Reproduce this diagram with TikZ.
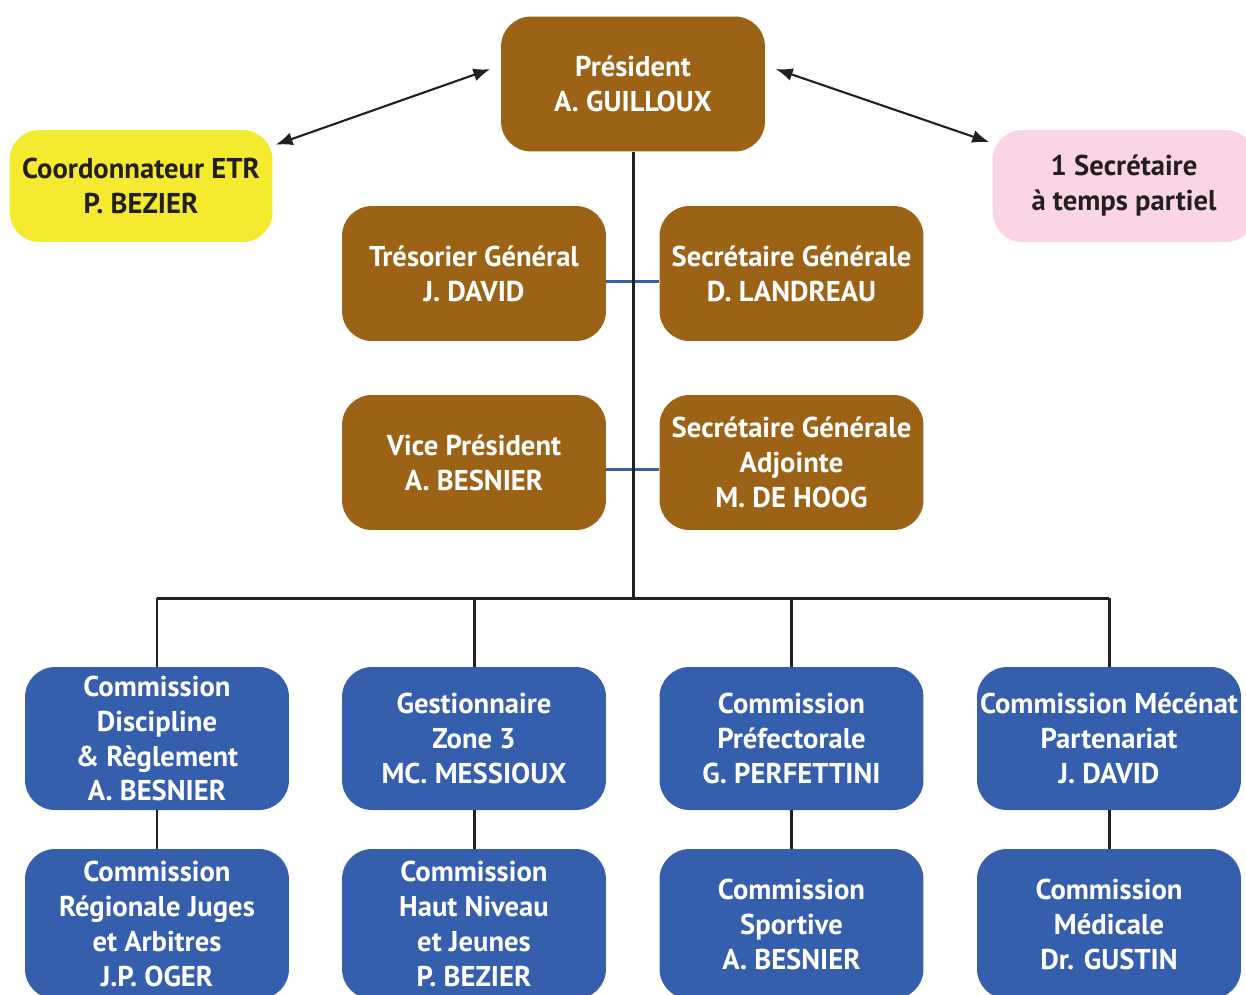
\documentclass[tikz,border=0pt]{standalone}
\usepackage{fontspec}
\setmainfont{PT Sans}
\usetikzlibrary{positioning,arrows.meta}

\definecolor{brun}{HTML}{9C6317}
\definecolor{bleu}{HTML}{355FAD}
\definecolor{jaune}{HTML}{F4EA30}
\definecolor{rose}{HTML}{F9D5E5}
\definecolor{texte}{HTML}{231F20}

\tikzset{
  poste/.style={rounded corners=0.6cm, minimum width=5.28cm, minimum height=2.7cm,
    align=center, inner sep=0pt, font=\bfseries\fontsize{16.3}{19.9}\selectfont},
  bureau/.style={poste, fill=brun, text=white},
  commission/.style={poste, fill=bleu, text=white, minimum height=2.86cm},
  annexe/.style={poste, minimum height=2.24cm, minimum width=5.26cm, text=texte},
  trait/.style={line width=1.7pt, draw=texte},
  lien/.style={line width=1.3pt, draw=bleu},
  fleche/.style={line width=1.2pt, draw=texte, {Latex[length=0.34cm,width=0.26cm]}-{Latex[length=0.34cm,width=0.26cm]}}
}

\begin{document}
\begin{tikzpicture}[x=0.02cm, y=-0.02cm]
  \useasboundingbox (0,0) rectangle (1246,994);
  \clip (0,0) rectangle (1246,994);

  % bureau
  \node[bureau] (pres) at (633,84) {Président\\A. GUILLOUX};
  \node[annexe, fill=jaune] (etr) at (141,186) {Coordonnateur ETR\\P. BEZIER};
  \node[annexe, fill=rose] (secr) at (1124,186) {1 Secrétaire\\à temps partiel};
  \node[bureau] (treso) at (474,273.5) {Trésorier Général\\J. DAVID};
  \node[bureau] (secgen) at (791.5,273.5) {Secrétaire Générale\\D. LANDREAU};
  \node[bureau] (vice) at (474,462.5) {Vice Président\\A. BESNIER};
  \node[bureau] (secadj) at (791.5,462.5) {Secrétaire Générale\\Adjointe\\M. DE HOOG};

  % commissions
  \node[commission] (c1) at (157,738.5) {Commission\\Discipline\\\& Règlement\\A. BESNIER};
  \node[commission] (c2) at (474,738.5) {Gestionnaire\\Zone 3\\MC. MESSIOUX};
  \node[commission] (c3) at (791.5,738.5) {Commission\\Préfectorale\\G. PERFETTINI};
  \node[commission] (c4) at (1109,738.5) {Commission Mécénat\\Partenariat\\J. DAVID};
  \node[commission, minimum height=3cm] (d1) at (157,924) {Commission\\Régionale Juges\\et Arbitres\\J.P. OGER};
  \node[commission, minimum height=3cm] (d2) at (474,924) {Commission\\Haut Niveau\\et Jeunes\\P. BEZIER};
  \node[commission, minimum height=3cm] (d3) at (791.5,924) {Commission\\Sportive\\A. BESNIER};
  \node[commission, minimum height=3cm] (d4) at (1109,924) {Commission\\Médicale\\Dr. GUSTIN};

  % liaisons
  \draw[lien] ([yshift=-0.16cm]treso.east) -- ([yshift=-0.16cm]secgen.west);
  \draw[lien] ([yshift=-0.14cm]vice.east) -- ([yshift=-0.14cm]secadj.west);
  \coordinate (barre) at (633,598);
  \draw[trait] (pres.south) -- (barre);
  \draw[trait] (c1.north |- barre) -- (c4.north |- barre);
  \foreach \n in {1,...,4}{
    \draw[trait] (c\n.north) -- (c\n.north |- barre);
    \draw[trait] (c\n.south) -- (d\n.north);
  }
  \draw[fleche, shorten <=0.22cm, shorten >=0.06cm] (pres.172) -- (etr.17);
  \draw[fleche, shorten <=0.22cm, shorten >=0.06cm] (pres.8) -- (secr.162);
\end{tikzpicture}
\end{document}
